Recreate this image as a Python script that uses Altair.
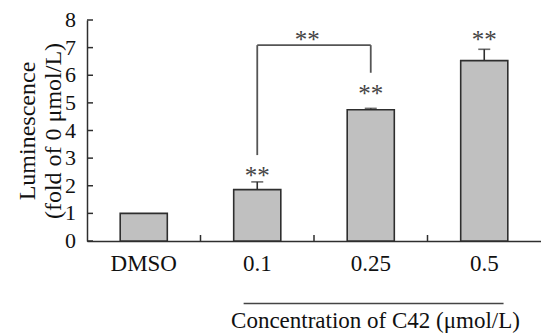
import altair as alt
import pandas as pd

# ---- data ----
categories = ["DMSO", "0.1", "0.25", "0.5"]
means = [1.0, 1.86, 4.75, 6.53]
errors = [0.0, 0.28, 0.05, 0.41]

star_cats = ["0.1", "0.25", "0.5"]
star_y = [2.08, 5.03, 7.0]

y_ticks = [0, 1, 2, 3, 4, 5, 6, 7, 8]
y_tick_labels = ["0", "1", "2", "3", "4", "5", "6", "7", "8"]
x_tick_pos = [1, 2, 3]          # band boundaries (in category steps)

bracket_x = [1.5, 1.5, 2.5]
bracket_x2 = [2.5, 1.5, 2.5]
bracket_y = [7.09, 3.11, 6.09]
bracket_y2 = [7.09, 7.09, 7.09]
bracket_star_x = [1.94]
bracket_star_y = [7.0]

group_line_x = [1.38]
group_line_x2 = [3.67]

FONT = "Liberation Serif"
INK = "#2e2e2e"

bars_df = pd.DataFrame({"cat": categories, "mean": means, "err": errors})
bars_df["upper"] = bars_df["mean"] + bars_df["err"]
err_df = bars_df[bars_df["err"] > 0]
stars_df = pd.DataFrame({"cat": star_cats, "y": star_y})
yt_df = pd.DataFrame({"v": y_ticks, "lab": y_tick_labels})
xt_df = pd.DataFrame({"p": x_tick_pos})
br_df = pd.DataFrame({"x": bracket_x, "x2": bracket_x2, "y": bracket_y, "y2": bracket_y2})
brs_df = pd.DataFrame({"x": bracket_star_x, "y": bracket_star_y})
gl_df = pd.DataFrame({"x": group_line_x, "x2": group_line_x2})

band = alt.Scale(domain=categories, paddingInner=0.585, paddingOuter=0.2925)
yscale = alt.Scale(domain=[0, 8], nice=False, zero=True)
qscale = alt.Scale(domain=[0, 4], nice=False, zero=False)

yaxis = alt.Axis(values=y_ticks, ticks=False, grid=False, labels=False,
                 domainColor=INK, domainWidth=1.5,
                 title=["Luminescence", "(fold of 0 μmol/L)"], titleFont=FONT,
                 titleFontSize=24, titleFontWeight="normal", titleColor="#111",
                 titleLineHeight=26, titlePadding=22)


def Y(field):
    return alt.Y(field, scale=yscale, axis=yaxis)


bars = alt.Chart(bars_df).mark_bar(fill="#c0c0c0", stroke=INK, strokeWidth=1.6).encode(
    x=alt.X("cat:N", scale=band, sort=categories,
            axis=alt.Axis(title="Concentration of C42 (μmol/L)", labelAngle=0, ticks=False,
                          labelPadding=11, labelFontSize=23, labelFont=FONT, labelColor="#111",
                          domainColor=INK, domainWidth=1.5,
                          titleFont=FONT, titleFontSize=23, titleFontWeight="normal",
                          titleColor="#111", titleX=288, titleY=86, titleAlign="center",
                          titleBaseline="alphabetic")),
    y=Y("mean:Q"),
)

err_rule = alt.Chart(err_df).mark_rule(color=INK, strokeWidth=1.6).encode(
    x=alt.X("cat:N", scale=band, sort=categories, axis=None),
    y=Y("mean:Q"),
    y2="upper:Q",
)
err_cap = alt.Chart(err_df).mark_tick(color=INK, size=12, thickness=1.6).encode(
    x=alt.X("cat:N", scale=band, sort=categories, axis=None),
    y=Y("upper:Q"),
)
stars = alt.Chart(stars_df).mark_text(text="**", font=FONT, fontSize=25, color="#444444",
                                      baseline="alphabetic").encode(
    x=alt.X("cat:N", scale=band, sort=categories, axis=None),
    y=Y("y:Q"),
)

y_tick_marks = alt.Chart(yt_df).mark_rule(color=INK, strokeWidth=1.5).encode(
    x=alt.value(0), x2=alt.value(6),
    y=Y("v:Q"),
)
y_tick_text = alt.Chart(yt_df).mark_text(font=FONT, fontSize=22, color="#111111",
                                         align="right", baseline="middle").encode(
    x=alt.value(-11),
    y=Y("v:Q"),
    text="lab:N",
)
x_tick_marks = alt.Chart(xt_df).mark_rule(color=INK, strokeWidth=1.5).encode(
    x=alt.X("p:Q", scale=qscale, axis=None),
    y=alt.value(221), y2=alt.value(215),
)
bracket = alt.Chart(br_df).mark_rule(color="#555555", strokeWidth=1.8).encode(
    x=alt.X("x:Q", scale=qscale, axis=None), x2="x2:Q",
    y=Y("y:Q"), y2="y2:Q",
)
bracket_stars = alt.Chart(brs_df).mark_text(text="**", font=FONT, fontSize=25, color="#444444",
                                            baseline="alphabetic").encode(
    x=alt.X("x:Q", scale=qscale, axis=None),
    y=Y("y:Q"),
)
group_line = alt.Chart(gl_df).mark_rule(color="#444444", strokeWidth=1.5).encode(
    x=alt.X("x:Q", scale=qscale, axis=None), x2="x2:Q",
    y=alt.value(283.5),
)

chart = alt.layer(
    bars, err_rule, err_cap, stars, y_tick_marks, y_tick_text, x_tick_marks, bracket,
    bracket_stars, group_line
).resolve_scale(x="independent").properties(
    width=454, height=221,
    autosize=alt.AutoSizeParams(type="none"),
    padding={"left": 87, "top": 20, "right": 0, "bottom": 93},
    background="white",
).configure_view(stroke=None)

chart.save("out.html", embed_options={"renderer": "svg", "actions": False})
